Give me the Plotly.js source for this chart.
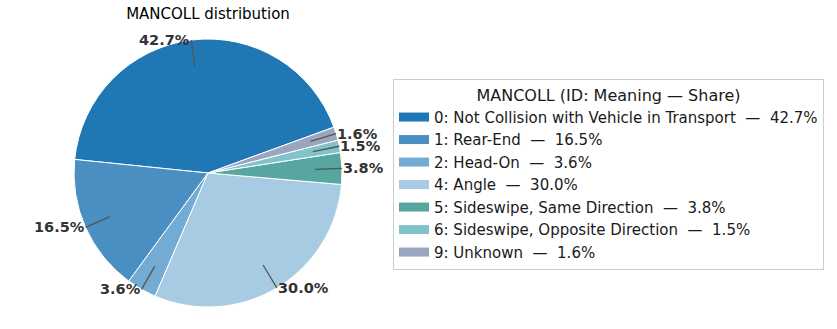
<!DOCTYPE html>
<html>
<head>
<meta charset="utf-8">
<script src="https://cdn.plot.ly/plotly-3.0.1.min.js"></script>
<style>html,body{margin:0;padding:0;background:#fff;}#chart{width:837px;height:329px;}</style>
</head>
<body>
<div id="chart"></div>
<script>
// ---- data ----
const ids = ['0', '1', '2', '4', '5', '6', '9'];
const meanings = ['Not Collision with Vehicle in Transport', 'Rear-End', 'Head-On', 'Angle',
  'Sideswipe, Same Direction', 'Sideswipe, Opposite Direction', 'Unknown'];
const shares = [42.7, 16.5, 3.6, 30.0, 3.8, 1.5, 1.6];
const colors = ['#1f77b4', '#4a8fc2', '#73abd3', '#a7cbe3', '#57a7a0', '#82c2ca', '#9aa6c0'];
const chartTitle = 'MANCOLL distribution';
const legendTitle = 'MANCOLL (ID: Meaning \u2014 Share)';

// ---- layout constants ----
const W = 837, H = 329;
const CX = 208, CY = 173, R = 134;
const START = 20; // degrees, counterclockwise from 3 o'clock

const labels = ids.map((id, i) => id + ': ' + meanings[i]);
const fmt = v => v.toFixed(1) + '%';
const total = shares.reduce((a, b) => a + b, 0);

// Plotly 'counterclockwise': first slice occupies [rotation, rotation + v] clockwise from 12 o'clock
const rotation = (90 - START) - 360 * shares[0] / total;

const traces = [{
  type: 'pie',
  values: shares,
  labels: labels,
  sort: false,
  direction: 'counterclockwise',
  rotation: rotation,
  marker: {colors: colors, line: {color: '#ffffff', width: 1}},
  textinfo: 'none',
  hoverinfo: 'skip',
  showlegend: false,
  domain: {x: [(CX - R) / W, (CX + R) / W], y: [(H - CY - R) / H, (H - CY + R) / H]}
}];

// legend entries as line swatches
ids.forEach((id, i) => {
  traces.push({
    type: 'scatter', mode: 'lines', x: [null], y: [null],
    name: labels[i] + '\u00a0\u00a0\u2014\u00a0\u00a0' + fmt(shares[i]),
    line: {color: colors[i], width: 9},
    hoverinfo: 'skip', showlegend: true
  });
});

// percentage labels with leader lines
let cum = 0;
const annotations = [];
shares.forEach((v, i) => {
  const mid = (START + (cum + v / 2) / total * 360) * Math.PI / 180;
  cum += v;
  const c = Math.cos(mid), s = Math.sin(mid);
  const hx = CX + 0.8 * R * c, hy = CY - 0.8 * R * s;
  const tx = CX + 1.0 * R * c, ty = CY - 1.0 * R * s;
  annotations.push({
    xref: 'paper', yref: 'paper',
    x: hx / W, y: (H - hy) / H,
    ax: tx - hx, ay: ty - hy,
    axref: 'pixel', ayref: 'pixel',
    text: '<b>' + fmt(v) + '</b>',
    font: {family: 'DejaVu Sans', size: 14.5, color: '#333333'},
    xanchor: c < 0 ? 'right' : 'left', yanchor: 'middle',
    showarrow: true, arrowhead: 0, arrowwidth: 1.3, arrowcolor: '#555555',
    standoff: 0, borderpad: 0
  });
});

const layout = {
  width: W, height: H,
  margin: {l: 0, r: 0, t: 0, b: 0},
  paper_bgcolor: '#ffffff', plot_bgcolor: '#ffffff',
  font: {family: 'DejaVu Sans', color: '#000000'},
  title: {text: chartTitle, x: CX / W, xanchor: 'center', y: 1 - 14 / H, yanchor: 'middle',
    xref: 'paper', yref: 'container', font: {family: 'DejaVu Sans', size: 15, color: '#000000'}},
  xaxis: {visible: false}, yaxis: {visible: false},
  showlegend: true,
  legend: {
    x: 393 / W, y: (H - 79) / H, xanchor: 'left', yanchor: 'top',
    bgcolor: '#ffffff', bordercolor: '#cccccc', borderwidth: 1,
    font: {family: 'DejaVu Sans', size: 15, color: '#1a1a1a'},
    title: {text: legendTitle, side: 'top center', font: {family: 'DejaVu Sans', size: 16, color: '#1a1a1a'}},
    itemwidth: 30, tracegroupgap: 0
  },
  annotations: annotations
};

Plotly.newPlot('chart', traces, layout, {staticPlot: true, displayModeBar: false});
</script>
</body>
</html>
